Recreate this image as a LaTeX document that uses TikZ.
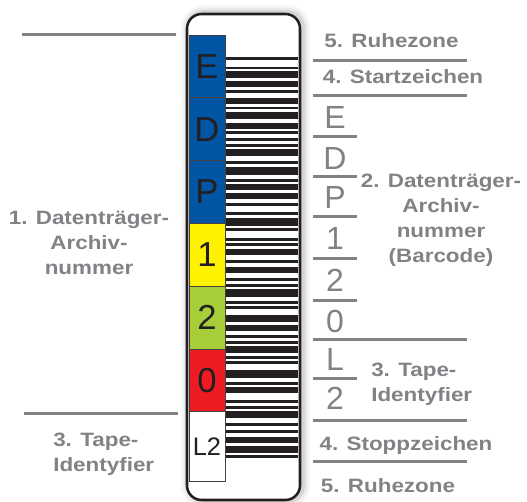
\documentclass[tikz,border=0pt]{standalone}
\usepackage{fontspec}
\setmainfont{Liberation Sans}
\newfontfamily\lblfont[FakeStretch=1.16]{Liberation Sans}
\usetikzlibrary{positioning}
\definecolor{lblgray}{RGB}{128,130,133}
\definecolor{tapeblue}{RGB}{0,86,164}
\definecolor{tapeyellow}{RGB}{255,242,0}
\definecolor{tapegreen}{RGB}{166,206,57}
\definecolor{tapered}{RGB}{237,28,36}
\definecolor{ink}{RGB}{35,31,32}

\begin{document}
\begin{tikzpicture}[x=0.75pt, y=-0.75pt,
field/.style = {rectangle, draw=ink!85, line width=0.5pt, inner sep=0mm, outer sep=0mm,
  minimum width=27pt, minimum height=47.1pt, text=ink, font=\fontsize{26}{26}\selectfont},
digit/.style = {% grey letters beside the barcode
  inner sep=0pt, text=lblgray, font=\fontsize{24}{24}\selectfont},
caption/.style = {inner sep=0pt, text=lblgray, font=\lblfont\bfseries\fontsize{14.5}{18.75}\selectfont},
rule/.style = {draw=lblgray, line width=2.25pt},
bar/.style = {fill=ink}]
\useasboundingbox (0,0) rectangle (527,501);
% soft shadow round the label
\foreach \w/\o in {12pt/0.04, 8pt/0.06, 4.5pt/0.1}
  \draw[ink, line width=\w, opacity=\o, rounded corners=11pt] (189,13) rectangle (302,500);
\node (frame) [draw=ink, fill=white, line width=1.9pt, rounded corners=11pt, inner sep=0pt,
  minimum width=84.75pt, minimum height=364.5pt] at (243.5,257) {};
% colour fields
\node (fE) [field, fill=tapeblue, anchor=north west] at (189,35) {E};
\node (fD) [field, fill=tapeblue, below=0pt of fE] {D};
\node (fP) [field, fill=tapeblue, below=0pt of fD] {P};
\node (f1) [field, fill=tapeyellow, below=0pt of fP] {1};
\node (f2) [field, fill=tapegreen, below=0pt of f1] {2};
\node (f0) [field, fill=tapered, below=0pt of f2] {0};
\node (fL) [field, fill=white, minimum height=52.5pt, below=0pt of f0,
  font=\fontsize{19}{19}\selectfont] {L2};
% barcode
\foreach \a/\b in {56.5/59.5, 66.5/69, 71/77.5, 81/87, 90/92.5, 97.5/103.5, 106.5/109,
  111.5/118.5, 123/129, 131/134, 138/141, 144/147, 149/156, 161/164, 167/175, 179/182,
  184/190, 193/199, 203/206, 212/215, 218/226, 228/230.5, 238/240.5, 243/245.5, 249/255,
  260/263, 267/273, 278/281, 284/287, 289/297, 301/303.5, 306/308.5, 315/322, 325/331,
  335/337.5, 341/344, 346/353, 356/359, 361/364, 370/378, 382/385, 387/393, 400/403,
  406/409, 411/418, 423/425.5, 430/433, 437/443, 446/453, 455/458}
  \fill[bar] (226,\a) rectangle (298,\b);
% left side
\draw[rule] (22,34) -- (176,34);
\draw[rule] (24,413) -- (178,413);
\node (vol) [caption, align=center] at (89,242.5) {1. Datenträger-\\Archiv-\\nummer};
\node (tapeL) [caption, align=left, anchor=west] at (53,454.5) {3. Tape-\\Identyfier};
% right side
\node (quietT) [caption, anchor=base] at (391.5,47) {5. Ruhezone};
\draw[rule] (313,60) -- (467,60);
\node (start) [caption, anchor=base] at (403,83) {4. Startzeichen};
\draw[rule] (313,95) -- (467,95);
\node (dE) [digit] at (335,117) {E};
\foreach \y in {136,176,216,258,300}
  \draw[rule] (313,\y) -- (357,\y);
\node (dD) [digit] at (335,158) {D};
\node (dP) [digit] at (335,197) {P};
\node (d1) [digit] at (335,238) {1};
\node (d2) [digit] at (335,280) {2};
\node (d0) [digit] at (335,321) {0};
\draw[rule] (313,339) -- (467,339);
\node (dL) [digit] at (335,359) {L};
\draw[rule] (313,378) -- (357,378);
\node (dT) [digit] at (335,398) {2};
\draw[rule] (313,420) -- (467,420);
\node (stop) [caption, anchor=base] at (406,450) {4. Stoppzeichen};
\draw[rule] (313,461) -- (467,461);
\node (quietB) [caption, anchor=base] at (388,492) {5. Ruhezone};
\node (volR) [caption, align=center] at (441,220.5) {2. Datenträger-\\Archiv-\\nummer\\(Barcode)};
\node (tapeR) [caption, align=left, anchor=west] at (371,384) {3. Tape-\\Identyfier};
\end{tikzpicture}
\end{document}
